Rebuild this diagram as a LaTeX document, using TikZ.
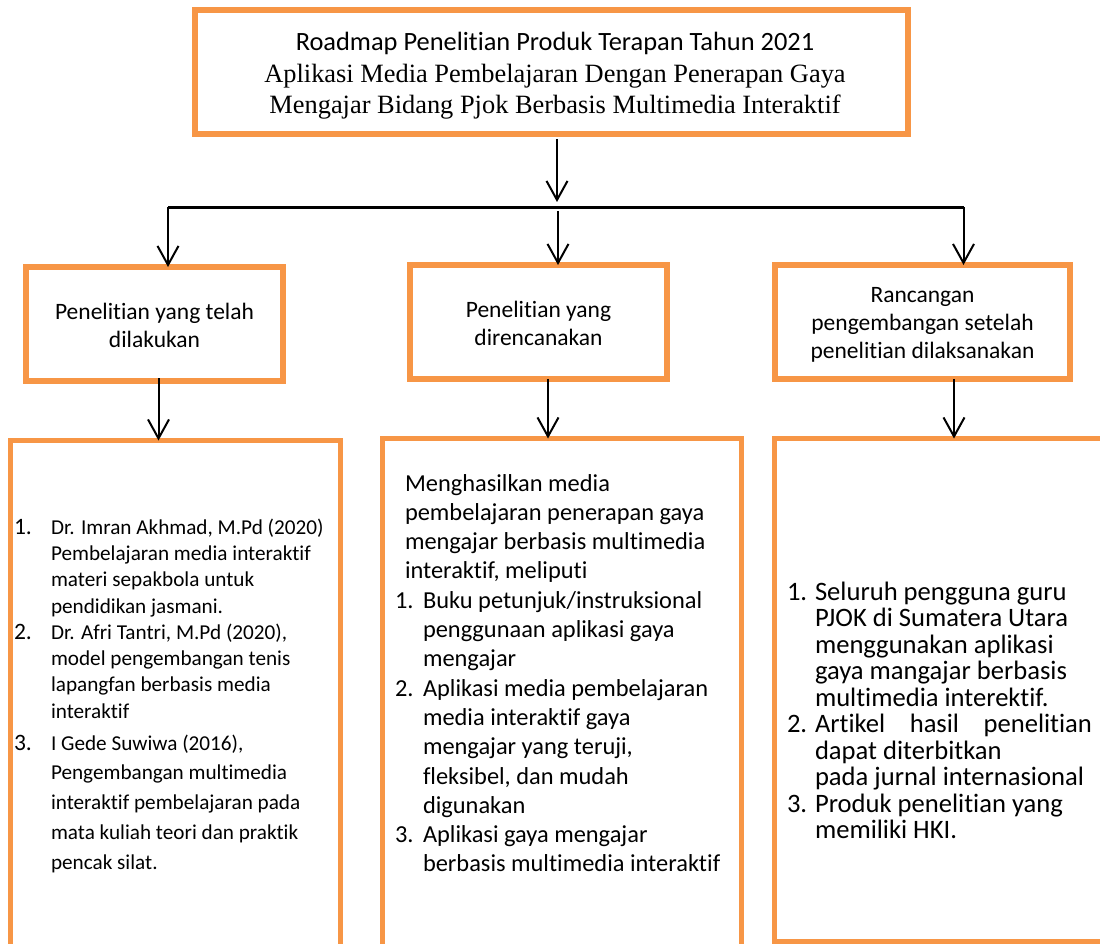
\documentclass[tikz,border=0pt]{standalone}
\usepackage{fontspec}
\setmainfont{Carlito}[Ligatures={NoCommon}]
\newfontfamily\timesf{Liberation Serif}
\usetikzlibrary{arrows.meta}
\definecolor{boxorange}{HTML}{F79646}
\newcommand\ftitle{\fontsize{26.4}{31.5}\selectfont}
\newcommand\fmid{\fontsize{23.5}{28.3}\selectfont}
\newcommand\fleft{\fontsize{21.2}{26.4}\selectfont}
\newcommand\fleftw{\fontsize{21.2}{29.8}\selectfont}
\newcommand\fnumL{\fontsize{23.5}{26}\selectfont}
\newcommand\fcen{\fontsize{24.4}{29.3}\selectfont}
\newcommand\fright{\fontsize{26.6}{26.5}\selectfont}
\tikzset{
  box/.style={draw=boxorange, line width=5.5pt, inner sep=0pt, outer sep=0pt},
  arr/.style={draw=black, line width=2pt, -{Straight Barb[length=19pt,width=21pt,line width=2pt]}},
  bar/.style={draw=black, line width=3pt},
  txt/.style={inner sep=0pt, outer sep=0pt, anchor=base west},
}
\begin{document}
\begin{tikzpicture}[x=1pt,y=-1pt]
\useasboundingbox (0,0) rectangle (1100,944);
\clip (0,0) rectangle (1100,944);
% boxes
\node[box, minimum width=713pt, minimum height=124pt] (title) at (551.5,72) {};
\node[box, minimum width=257pt, minimum height=114pt] (lbox) at (154.5,324) {};
\node[box, minimum width=257pt, minimum height=114pt] (mbox) at (538.5,322) {};
\node[box, minimum width=295pt, minimum height=114pt] (rbox) at (922.5,322) {};
\node[box, minimum width=330pt, minimum height=519pt] (bl) at (175.5,700) {};
\node[box, minimum width=359pt, minimum height=521pt] (bm) at (562,699) {};
\node[box, minimum width=345.5pt, minimum height=503.5pt] (br) at (947.25,690.25) {};
% title text
\node[txt, anchor=base] (titletext) at (555,51) {\parbox[t]{700pt}{\centering\ftitle Roadmap Penelitian Produk Terapan Tahun 2021\\\timesf Aplikasi Media Pembelajaran Dengan Penerapan Gaya\\Mengajar Bidang Pjok Berbasis Multimedia Interaktif}};
% middle level texts
\node[txt, anchor=base] (lt) at (154.5,319) {\parbox[t]{250pt}{\centering\fmid Penelitian yang telah\\dilakukan}};
\node[txt, anchor=base] (mt) at (538.5,317) {\parbox[t]{250pt}{\centering\fmid Penelitian yang\\direncanakan}};
\node[txt, anchor=base] (rt) at (922.5,302) {\parbox[t]{290pt}{\centering\fmid Rancangan\\pengembangan setelah\\penelitian dilaksanakan}};
% bottom left
\node[txt] (l1n) at (14,534) {\fnumL 1.};
\node[txt] (l1) at (51,534) {\parbox[t]{285pt}{\raggedright\fleft Dr. Imran Akhmad, M.Pd (2020)\\Pembelajaran media interaktif\\materi sepakbola untuk\\pendidikan jasmani.}};
\node[txt] (l2n) at (14,639) {\fnumL 2.};
\node[txt] (l2) at (51,639) {\parbox[t]{285pt}{\raggedright\fleft Dr. Afri Tantri, M.Pd (2020),\\model pengembangan tenis\\lapangfan berbasis media\\interaktif}};
\node[txt] (l3n) at (14,750) {\fnumL 3.};
\node[txt] (l3) at (51,750) {\parbox[t]{285pt}{\raggedright\fleftw I Gede Suwiwa (2016),\\Pengembangan multimedia\\interaktif pembelajaran pada\\mata kuliah teori dan praktik\\pencak silat.}};
% bottom middle
\node[txt] (mintro) at (405,491) {\parbox[t]{330pt}{\raggedright\fcen Menghasilkan media\\pembelajaran penerapan gaya\\mengajar berbasis multimedia\\interaktif, meliputi}};
\node[txt] (m1n) at (395,608.2) {\fcen 1.};
\node[txt] (m1) at (423,608.2) {\parbox[t]{315pt}{\raggedright\fcen Buku petunjuk/instruksional\\penggunaan aplikasi gaya\\mengajar}};
\node[txt] (m2n) at (395,696.1) {\fcen 2.};
\node[txt] (m2) at (423,696.1) {\parbox[t]{315pt}{\raggedright\fcen Aplikasi media pembelajaran\\media interaktif gaya\\mengajar yang teruji,\\fleksibel, dan mudah\\digunakan}};
\node[txt] (m3n) at (395,842.6) {\fcen 3.};
\node[txt] (m3) at (423,842.6) {\parbox[t]{315pt}{\raggedright\fcen Aplikasi gaya mengajar\\berbasis multimedia interaktif}};
% bottom right
\node[txt] (r1n) at (787,600) {\fright 1.};
\node[txt] (r1) at (815,600) {\parbox[t]{280pt}{\raggedright\fright Seluruh pengguna guru\\PJOK di Sumatera Utara\\menggunakan aplikasi\\gaya mangajar berbasis\\multimedia interektif.}};
\node[txt] (r2n) at (787,732.5) {\fright 2.};
\node[txt] (r2) at (815,732.5) {\parbox[t]{280pt}{\raggedright\fright \makebox[277pt][l]{Artikel\hfill hasil\hfill penelitian}\\dapat diterbitkan\\pada jurnal internasional}};
\node[txt] (r3n) at (787,812) {\fright 3.};
\node[txt] (r3) at (815,812) {\parbox[t]{280pt}{\raggedright\fright Produk penelitian yang\\memiliki HKI.}};
% connectors
\coordinate (hub) at (557,202);
\coordinate (barL) at (168,207.5);
\coordinate (barR) at (963.5,207.5);
\coordinate (midtop) at (558,211);
\coordinate (xl) at (158.5,0);
\coordinate (xm) at (548,0);
\coordinate (xr) at (954,0);
\draw[arr] ([yshift=-5pt]title.south -| hub) -- (hub);
\draw[bar] (barL) -- (barR);
\draw[arr] (barL) -- (lbox.north -| barL);
\draw[arr] (midtop) -- (mbox.north -| midtop);
\draw[arr] (barR) -- (rbox.north -| barR);
\draw[arr] ([yshift=3pt]lbox.south -| xl) -- (bl.north -| xl);
\draw[arr] (mbox.south -| xm) -- (bm.north -| xm);
\draw[arr] (rbox.south -| xr) -- (br.north -| xr);
\end{tikzpicture}
\end{document}
